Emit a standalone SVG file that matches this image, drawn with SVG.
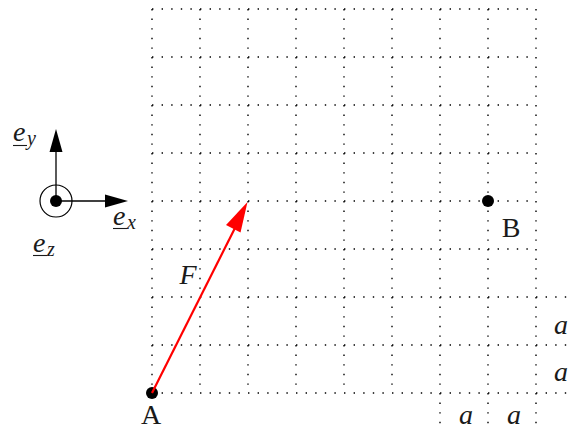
<svg xmlns="http://www.w3.org/2000/svg" width="573" height="430" viewBox="0 0 573 430">
<style>
.g{stroke:#000;stroke-width:1.4;stroke-dasharray:1.4 8.2;fill:none}
.t{font-family:"Liberation Serif",serif;font-size:28px;fill:#1a1a1a}
.i{font-family:"Liberation Serif",serif;font-style:italic;font-size:28px;fill:#1a1a1a}
.s{font-family:"Liberation Serif",serif;font-style:italic;font-size:20px;fill:#1a1a1a}
.u{stroke:#1a1a1a;stroke-width:1.1}
</style>
<rect width="573" height="430" fill="#fff"/>
<g id="grid">
<path class="g" d="M152 9V393M200 9V393M248 9V393M296 9V393M344 9V393M392 9V393M440 9V430M488 9V430M536 9V430"/>
<path class="g" d="M152 9H536M152 57H536M152 105H536M152 153H536M152 201H536M152 249H536M152 297H573M152 345H573M152 393H573"/>
</g>
<g id="axes">
<circle cx="56" cy="201" r="16" fill="none" stroke="#000" stroke-width="1.2"/>
<circle cx="56" cy="201" r="6" fill="#000"/>
<line x1="56" y1="201" x2="56" y2="150" stroke="#000" stroke-width="1.3"/>
<polygon points="56,129 49.5,152 62.5,152" fill="#000"/>
<line x1="56" y1="201" x2="108" y2="201" stroke="#000" stroke-width="1.3"/>
<polygon points="128,201 105,194.5 105,207.5" fill="#000"/>
<text class="i" x="13" y="141">e</text><text class="s" x="27" y="145">y</text>
<line class="u" x1="13" y1="145.5" x2="27" y2="145.5"/>
<text class="i" x="113" y="225">e</text><text class="s" x="127" y="229">x</text>
<line class="u" x1="113" y1="228.5" x2="127" y2="228.5"/>
<text class="i" x="33" y="252">e</text><text class="s" x="47" y="256">z</text>
<line class="u" x1="33" y1="255.5" x2="47" y2="255.5"/>
</g>
<g id="A"><circle cx="152" cy="393" r="6" fill="#000"/><text class="t" x="151" y="424" text-anchor="middle">A</text></g>
<g id="B"><circle cx="488" cy="201" r="6" fill="#000"/><text class="t" x="511" y="237" text-anchor="middle">B</text></g>
<g id="connectors">
<line x1="152" y1="393" x2="237" y2="224" stroke="#f00" stroke-width="2.2"/>
<polygon points="247.5,202 226,225 240.5,232.5" fill="#f00"/>
</g>
<g id="labels">
<text class="i" x="188" y="284" text-anchor="middle">F</text>
<text class="i" x="561" y="334" text-anchor="middle">a</text>
<text class="i" x="561" y="381" text-anchor="middle">a</text>
<text class="i" x="466" y="424" text-anchor="middle">a</text>
<text class="i" x="514" y="424" text-anchor="middle">a</text>
</g>
</svg>
